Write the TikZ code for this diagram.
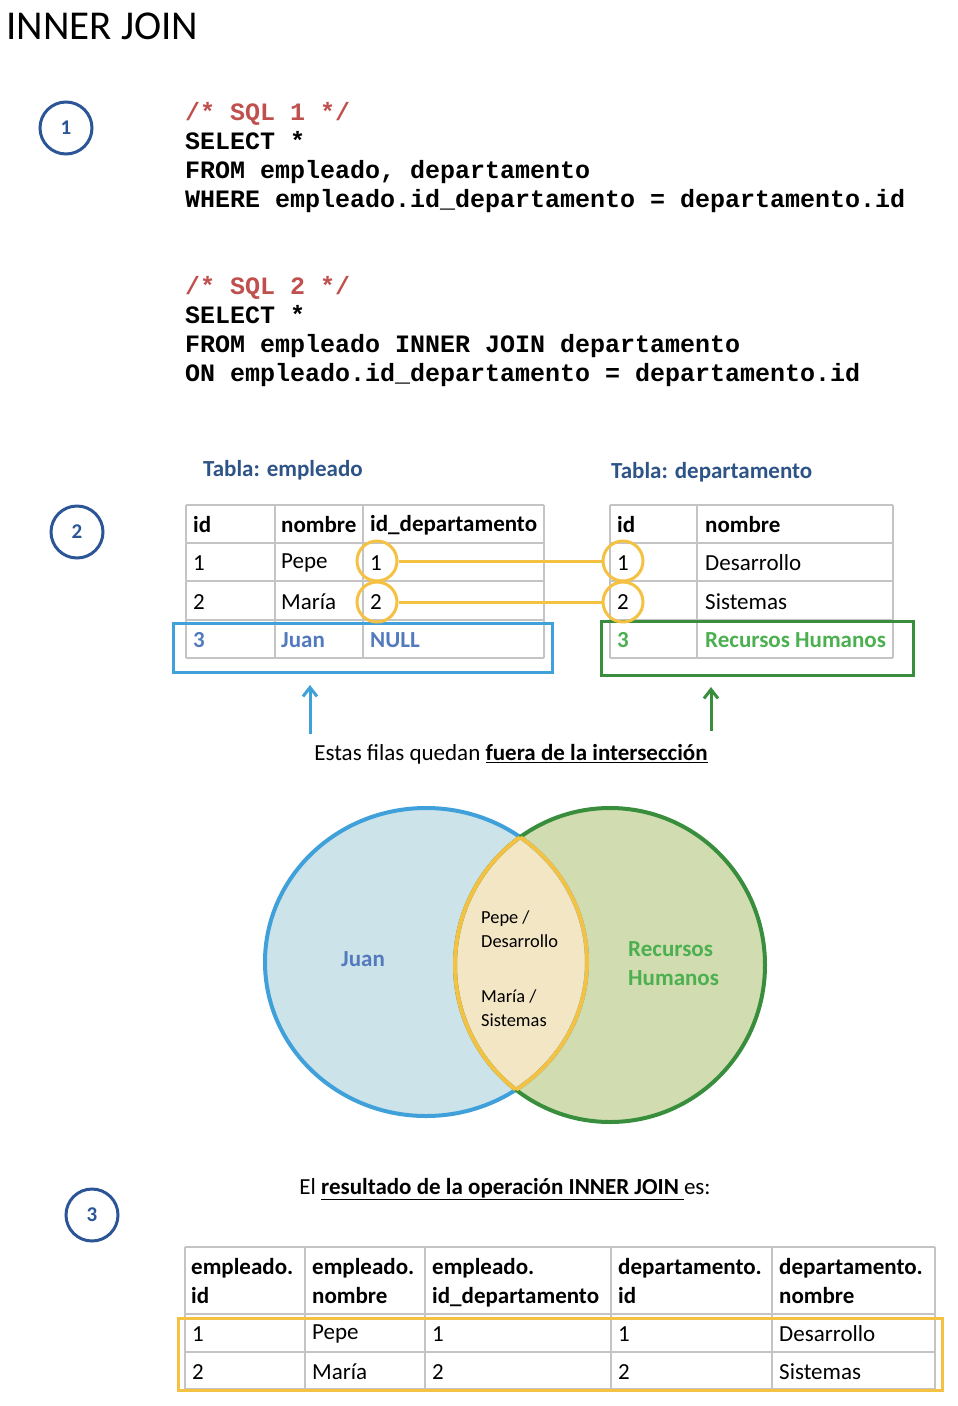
\documentclass[tikz,border=0pt]{standalone}
\usepackage{fontspec}
\setmainfont{Carlito}
\newfontfamily\codefont{Liberation Mono}
\usetikzlibrary{arrows.meta}
\definecolor{cdark}{RGB}{43,85,150}
\definecolor{ctitle}{RGB}{46,84,135}
\definecolor{cred}{RGB}{192,80,77}
\definecolor{cgrid}{RGB}{196,196,196}
\definecolor{cbluebox}{RGB}{64,160,218}
\definecolor{cgreenbox}{RGB}{56,142,60}
\definecolor{cbluetext}{RGB}{84,122,190}
\definecolor{cgreentext}{RGB}{76,175,80}
\definecolor{cyellow}{RGB}{245,193,66}
\definecolor{cbluefill}{RGB}{205,227,234}
\definecolor{cgreenfill}{RGB}{209,221,176}
\definecolor{clensfill}{RGB}{243,230,196}
\tikzset{
  numcirc/.style={circle,draw=cdark,line width=3pt,minimum size=52pt,inner sep=0pt,text=cdark,font=\fontsize{21}{22}\selectfont\bfseries},
  code/.style={anchor=base west,align=left,inner sep=0pt,font=\codefont\bfseries\fontsize{25}{29}\selectfont},
  cell/.style={anchor=west,inner sep=0pt,font=\fontsize{23}{27}\selectfont},
  hcell/.style={cell,font=\fontsize{23}{27}\selectfont\bfseries},
  bhead/.style={anchor=north west,align=left,inner sep=0pt,font=\fontsize{23}{29}\selectfont\bfseries},
  tabtitle/.style={anchor=west,inner sep=0pt,text=ctitle,font=\fontsize{23}{27}\selectfont\bfseries},
  grid/.style={draw=cgrid,line width=2pt},
  ycirc/.style={circle,draw=cyellow,line width=3pt,minimum size=40pt,inner sep=0pt},
  ylink/.style={draw=cyellow,line width=3pt},
  venntext/.style={anchor=north west,align=left,inner sep=0pt,font=\fontsize{18.4}{24}\selectfont},
  upar/.style={-{Straight Barb[length=9pt,width=14pt]},line width=3pt},
}
\begin{document}
\begin{tikzpicture}[x=1pt,y=-1pt]
\useasboundingbox (0,0) rectangle (958,1406);
% title
\node[anchor=base west,inner sep=0pt,font=\fontsize{41}{46}\selectfont] (title) at (6,39) {INNER JOIN};
% circled numbers
\node[numcirc] (n1) at (66,128) {1};
\node[numcirc] (n2) at (77,532) {2};
\node[numcirc] (n3) at (92,1215) {3};
% SQL (base anchor = last line baseline)
\node[code] (sql1) at (185,207) {\textcolor{cred}{/* SQL 1 */}\\SELECT *\\FROM empleado, departamento\\WHERE empleado.id\_departamento = departamento.id};
\node[code] (sql2) at (185,381) {\textcolor{cred}{/* SQL 2 */}\\SELECT *\\FROM empleado INNER JOIN departamento\\ON empleado.id\_departamento = departamento.id};
% table titles
\node[tabtitle] (t1) at (203,470) {Tabla: empleado};
\node[tabtitle] (t2) at (611,472) {Tabla: departamento};
% empleado grid
\foreach \y in {505,543,581,620,658} \draw[grid] (186,\y) -- (544,\y);
\foreach \x in {186,275,363,544} \draw[grid] (\x,505) -- (\x,658);
% departamento grid
\foreach \y in {505,543,581,620,658} \draw[grid] (610,\y) -- (893,\y);
\foreach \x in {610,697,893} \draw[grid] (\x,505) -- (\x,658);
% empleado cells
\node[hcell] (e00) at (193,525) {id};
\node[hcell] (e01) at (281,525) {nombre};
\node[hcell] (e02) at (370,525) {id\_departamento};
\node[cell] (e10) at (193,563) {1};
\node[cell] (e11) at (281,563) {Pepe};
\node[cell] (e12) at (370,563) {1};
\node[cell] (e20) at (193,602) {2};
\node[cell] (e21) at (281,602) {María};
\node[cell] (e22) at (370,602) {2};
\node[hcell,text=cbluetext] (e30) at (193,640) {3};
\node[hcell,text=cbluetext] (e31) at (281,640) {Juan};
\node[hcell,text=cbluetext] (e32) at (370,640) {NULL};
% departamento cells
\node[hcell] (d00) at (617,525) {id};
\node[hcell] (d01) at (705,525) {nombre};
\node[cell] (d10) at (617,563) {1};
\node[cell] (d11) at (705,563) {Desarrollo};
\node[cell] (d20) at (617,602) {2};
\node[cell] (d21) at (705,602) {Sistemas};
\node[hcell,text=cgreentext] (d30) at (617,640) {3};
\node[hcell,text=cgreentext] (d31) at (705,640) {Recursos Humanos};
% highlight boxes
\draw[cbluebox,line width=3pt] (173,623) rectangle (552,672);
\draw[cgreenbox,line width=3pt] (601,621) rectangle (913,675);
% yellow circles and links
\node[ycirc] (ye1) at (377,561) {};
\node[ycirc] (ye2) at (377,602) {};
\node[ycirc] (yd1) at (623,561) {};
\node[ycirc] (yd2) at (623,602) {};
\draw[ylink] (ye1.east) -- (yd1.west);
\draw[ylink] (ye2.east) -- (yd2.west);
% arrows
\coordinate (ab0) at (310,734);
\coordinate (ab1) at (310,685);
\coordinate (ag0) at (711,731);
\coordinate (ag1) at (711,687);
\draw[upar,cbluebox] (ab0) -- (ab1);
\draw[upar,cgreenbox] (ag0) -- (ag1);
\node[inner sep=0pt,font=\fontsize{23}{27}\selectfont] (fuera) at (511,754) {Estas filas quedan \underline{\textbf{fuera de la intersección}}};
% venn
\def\bluepath{(426,962) ellipse [x radius=161,y radius=154]}
\def\greenpath{(610,965) ellipse [x radius=155,y radius=157]}
\fill[cbluefill] \bluepath;
\fill[cgreenfill] \greenpath;
\begin{scope}
\clip \bluepath;
\fill[clensfill] \greenpath;
\end{scope}
\draw[cbluebox,line width=4pt] \bluepath;
\draw[cgreenbox,line width=4pt] \greenpath;
\begin{scope}
\clip \bluepath;
\draw[cyellow,line width=4pt] \greenpath;
\end{scope}
\begin{scope}
\clip \greenpath;
\draw[cyellow,line width=4pt] \bluepath;
\end{scope}
\node[anchor=center,inner sep=0pt,text=cbluetext,font=\fontsize{23}{27}\selectfont\bfseries] (vjuan) at (363,959) {Juan};
\node[venntext] (vpepe) at (481,911) {Pepe /\\Desarrollo};
\node[venntext] (vmaria) at (481,990) {María /\\Sistemas};
\node[anchor=north west,align=left,inner sep=0pt,text=cgreentext,font=\fontsize{23}{29}\selectfont\bfseries] (vrh) at (628,941) {Recursos\\Humanos};
% result caption
\node[inner sep=0pt,font=\fontsize{23}{27}\selectfont] (res) at (505,1189) {El \underline{\textbf{resultado de la operación INNER JOIN }}es:};
% bottom table
\foreach \y in {1247,1314,1352,1389} \draw[grid] (185,\y) -- (935,\y);
\foreach \x in {185,305,425,611,772,935} \draw[grid] (\x,1247) -- (\x,1389);
\node[bhead] (h0) at (191,1258) {empleado.\\id};
\node[bhead] (h1) at (312,1258) {empleado.\\nombre};
\node[bhead] (h2) at (432,1258) {empleado.\\id\_departamento};
\node[bhead] (h3) at (618,1258) {departamento.\\id};
\node[bhead] (h4) at (779,1258) {departamento.\\nombre};
\node[cell] (r10) at (192,1334) {1};
\node[cell] (r11) at (312,1334) {Pepe};
\node[cell] (r12) at (432,1334) {1};
\node[cell] (r13) at (618,1334) {1};
\node[cell] (r14) at (779,1334) {Desarrollo};
\node[cell] (r20) at (192,1372) {2};
\node[cell] (r21) at (312,1372) {María};
\node[cell] (r22) at (432,1372) {2};
\node[cell] (r23) at (618,1372) {2};
\node[cell] (r24) at (779,1372) {Sistemas};
\draw[cyellow,line width=3pt] (178,1318) rectangle (942,1390);
\end{tikzpicture}
\end{document}
